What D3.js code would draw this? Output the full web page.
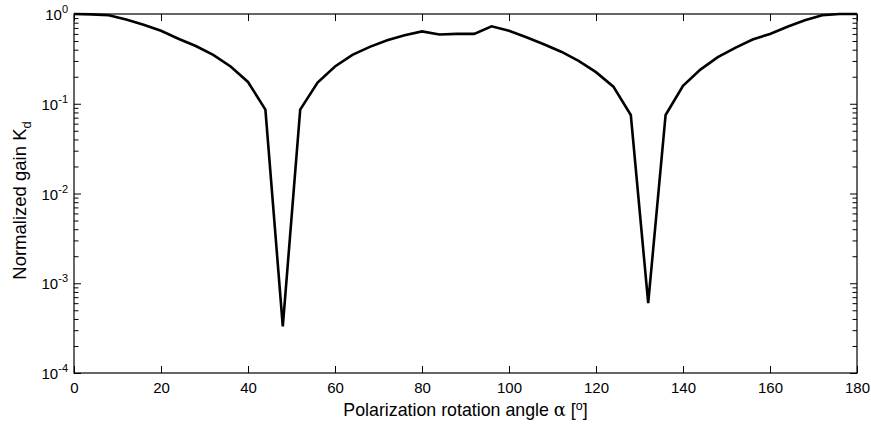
<!DOCTYPE html>
<html>
<head>
<meta charset="utf-8">
<script src="https://cdn.jsdelivr.net/npm/d3@7"></script>
<style>
  body { margin: 0; background: #fff; }
  svg { display: block; }
  text { font-family: "Liberation Sans", Arial, Helvetica, sans-serif; fill: #000; }
</style>
</head>
<body>
<svg id="chart" width="871" height="425"></svg>
<script>
// Data: normalized gain vs polarization rotation angle (degrees)
const angles = [0, 4, 8, 12, 16, 20, 24, 28, 32, 36, 40, 44, 48, 52, 56, 60,
  64, 68, 72, 76, 80, 84, 88, 92, 96, 100, 104, 108, 112, 116, 120,
  124, 128, 132, 136, 140, 144, 148, 152, 156, 160, 164, 168, 172, 176, 180];
const gains = [1.0, 0.99, 0.97, 0.87, 0.76, 0.65, 0.53, 0.44, 0.35, 0.26, 0.175, 0.086, 0.00033, 0.086, 0.172, 0.26,
  0.35, 0.43, 0.51, 0.58, 0.64, 0.59, 0.60, 0.60, 0.73, 0.65, 0.55, 0.46, 0.38, 0.30, 0.225,
  0.155, 0.075, 0.0006, 0.075, 0.158, 0.24, 0.33, 0.42, 0.52, 0.60, 0.72, 0.85, 0.97, 1.0, 1.0];
const xTickValues = [0, 20, 40, 60, 80, 100, 120, 140, 160, 180];
const yTickExponents = [0, -1, -2, -3, -4];
const xLabel = "Polarization rotation angle ";
const yLabel = "Normalized gain K";

const svg = d3.select("#chart");
const pL = 74, pR = 857, pT = 14, pB = 373;

const x = d3.scaleLinear().domain([0, 180]).range([pL, pR]);
const y = d3.scaleLog().domain([1e-4, 1]).range([pB, pT]);

const majorLen = 7, minorLen = 4.5;

// minor ticks values
const minorVals = [];
yTickExponents.forEach(e => {
  if (e < 0) for (let k = 2; k <= 9; k++) minorVals.push(k * Math.pow(10, e));
});

// Axis box
svg.append("rect")
  .attr("x", pL).attr("y", pT)
  .attr("width", pR - pL).attr("height", pB - pT)
  .attr("fill", "none").attr("stroke", "#000").attr("stroke-width", 1.2);

// Bottom axis
const gx = svg.append("g").attr("transform", `translate(0,${pB})`)
  .call(d3.axisBottom(x).tickValues(xTickValues).tickSizeInner(-majorLen).tickSizeOuter(0).tickPadding(9));
gx.select(".domain").remove();
gx.selectAll("text").style("font-size", "15px").attr("fill", "#000")
  .attr("font-family", '"Liberation Sans", Arial, sans-serif');
gx.selectAll("line").attr("stroke", "#000");

// Top axis ticks
const gxt = svg.append("g").attr("transform", `translate(0,${pT})`)
  .call(d3.axisTop(x).tickValues(xTickValues).tickSizeInner(-majorLen).tickSizeOuter(0).tickFormat(""));
gxt.select(".domain").remove();
gxt.selectAll("line").attr("stroke", "#000");

// Left / right axis ticks (major + minor)
function yTicks(axisFn, xpos) {
  const gMaj = svg.append("g").attr("transform", `translate(${xpos},0)`)
    .call(axisFn(y).tickValues(yTickExponents.map(e => Math.pow(10, e))).tickSizeInner(-majorLen).tickSizeOuter(0).tickFormat(""));
  gMaj.select(".domain").remove();
  gMaj.selectAll("line").attr("stroke", "#000");
  const gMin = svg.append("g").attr("transform", `translate(${xpos},0)`)
    .call(axisFn(y).tickValues(minorVals).tickSizeInner(-minorLen).tickSizeOuter(0).tickFormat(""));
  gMin.select(".domain").remove();
  gMin.selectAll("line").attr("stroke", "#000");
}
yTicks(d3.axisLeft, pL);
yTicks(d3.axisRight, pR);

// Y tick labels 10^e
yTickExponents.forEach(e => {
  const t = svg.append("text")
    .attr("x", pL - 6).attr("y", y(Math.pow(10, e)) + 6)
    .attr("text-anchor", "end")
    .style("font-size", "15px");
  t.append("tspan").text("10");
  t.append("tspan").attr("dy", -7).style("font-size", "11px").text(String(e));
});

// Line
const line = d3.line().x((d, i) => x(angles[i])).y(d => y(d));
svg.append("path")
  .datum(gains)
  .attr("d", line)
  .attr("fill", "none")
  .attr("stroke", "#000")
  .attr("stroke-width", 2.6)
  .attr("stroke-linejoin", "miter");

// X label
const xl = svg.append("text")
  .attr("x", (pL + pR) / 2).attr("y", 416)
  .attr("text-anchor", "middle")
  .style("font-size", "17.8px");
xl.append("tspan").text(xLabel);
xl.append("tspan").style("font-family", '"DejaVu Serif", serif').text("\u03B1");
xl.append("tspan").text(" [");
xl.append("tspan").attr("dy", -6).style("font-size", "12.5px").text("o");
xl.append("tspan").attr("dy", 6).text("]");

// Y label
const yl = svg.append("text")
  .attr("transform", `translate(26,${(pT + pB) / 2 + 7}) rotate(-90)`)
  .attr("text-anchor", "middle")
  .style("font-size", "18.5px");
yl.append("tspan").text(yLabel);
yl.append("tspan").attr("dy", 5).style("font-size", "13px").text("d");
</script>
</body>
</html>
